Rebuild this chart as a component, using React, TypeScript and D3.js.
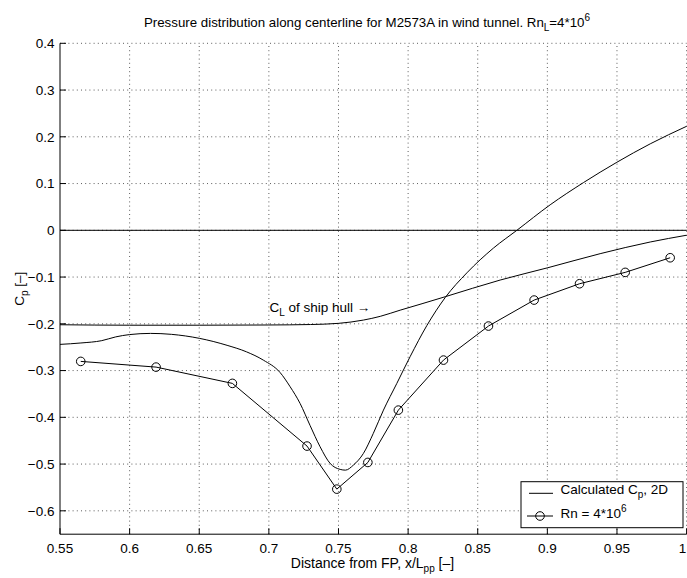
import React from "react";
import * as d3 from "d3";

const xTicks = [0.55, 0.6, 0.65, 0.7, 0.75, 0.8, 0.85, 0.9, 0.95, 1];
const yTicks = [0.4, 0.3, 0.2, 0.1, 0, -0.1, -0.2, -0.3, -0.4, -0.5, -0.6];

// Calculated Cp, 2D
const calcX = [0.55, 0.565, 0.58, 0.59, 0.6, 0.615, 0.63, 0.65, 0.67, 0.684, 0.696, 0.708, 0.7153, 0.7224, 0.7296, 0.7368, 0.744, 0.7512, 0.755, 0.7607, 0.7679, 0.775, 0.7823, 0.7919, 0.8014, 0.8134, 0.8266, 0.8422, 0.8613, 0.8781, 0.902, 0.9259, 0.9499, 0.9739, 1.0];
const calcY = [-0.244, -0.241, -0.236, -0.228, -0.223, -0.2205, -0.2225, -0.231, -0.246, -0.26, -0.2776, -0.304, -0.3347, -0.3702, -0.4175, -0.463, -0.4986, -0.5114, -0.513, -0.5022, -0.4772, -0.4344, -0.3846, -0.3274, -0.2705, -0.204, -0.144, -0.091, -0.038, 0.0, 0.0545, 0.102, 0.1455, 0.185, 0.2225];

// C_L of ship hull
const clX = [0.55, 0.6, 0.65, 0.7, 0.73, 0.75, 0.7679, 0.78, 0.7943, 0.81, 0.8266, 0.8661, 0.9004, 0.9379, 0.9739, 1.0];
const clY = [-0.202, -0.203, -0.203, -0.2025, -0.2015, -0.199, -0.192, -0.184, -0.1708, -0.157, -0.1421, -0.1064, -0.08, -0.05, -0.025, -0.0105];

// Measured Rn = 4*10^6
const measX = [0.5649, 0.619, 0.6738, 0.7274, 0.7488, 0.7711, 0.793, 0.8254, 0.8577, 0.8905, 0.9231, 0.9559, 0.9882];
const measY = [-0.2804, -0.2926, -0.3274, -0.4615, -0.5536, -0.4965, -0.3846, -0.2776, -0.2048, -0.1492, -0.1143, -0.09, -0.0587];

const W = 687;
const H = 578;
const left = 60;
const right = 686.6;
const top = 43.3;
const bottom = 534.2;
const FONT = "'Liberation Sans', Arial, Helvetica, sans-serif";

export default function App() {
  const x = d3.scaleLinear().domain([0.55, 1]).range([left, right]);
  const y = d3.scaleLinear().domain([-0.65, 0.4]).range([bottom, top]);

  const calcLine = d3
    .line<number>()
    .x((_, i) => x(calcX[i]))
    .y((d) => y(d))
    .curve(d3.curveMonotoneX)(calcY) as string;
  const clLine = d3
    .line<number>()
    .x((_, i) => x(clX[i]))
    .y((d) => y(d))
    .curve(d3.curveMonotoneX)(clY) as string;
  const measLine = d3
    .line<number>()
    .x((_, i) => x(measX[i]))
    .y((d) => y(d))(measY) as string;

  const fmt = (v: number) => {
    const s = String(Math.round(v * 100) / 100);
    return s.replace("-", "\u2212");
  };

  const fs = 13.5;
  const sub = 10;

  return (
    <svg
      width={W}
      height={H}
      style={{ position: "absolute", left: 0, top: 0, background: "#fff" }}
      fontFamily={FONT}
    >
      <rect x={0} y={0} width={W} height={H} fill="#fff" />
      {/* grid */}
      <g stroke="#333" strokeWidth={0.8} strokeDasharray="1 3.2">
        {xTicks
          .filter((t) => t > 0.55)
          .map((t) => (
            <line key={"gx" + t} x1={x(t)} x2={x(t)} y1={bottom} y2={top} />
          ))}
        {yTicks.map((t) => (
          <line key={"gy" + t} x1={left} x2={right} y1={y(t)} y2={y(t)} />
        ))}
      </g>
      {/* zero line */}
      <line x1={left} x2={right} y1={y(0)} y2={y(0)} stroke="#000" strokeWidth={1} />
      {/* curves */}
      <path d={clLine} fill="none" stroke="#000" strokeWidth={1} />
      <path d={calcLine} fill="none" stroke="#000" strokeWidth={1} />
      <path d={measLine} fill="none" stroke="#000" strokeWidth={1} />
      {measX.map((mx, i) => (
        <circle key={"c" + i} cx={x(mx)} cy={y(measY[i])} r={4.3} fill="none" stroke="#000" strokeWidth={1} />
      ))}
      {/* axes */}
      <line x1={left} x2={left} y1={top} y2={bottom} stroke="#000" strokeWidth={1} />
      <line x1={left} x2={right} y1={bottom} y2={bottom} stroke="#000" strokeWidth={1} />
      {xTicks.map((t) => (
        <g key={"xt" + t}>
          <line x1={x(t)} x2={x(t)} y1={bottom} y2={bottom - 6} stroke="#000" strokeWidth={1} />
          <text x={Math.min(x(t), 682.5)} y={552.5} textAnchor="middle" fontSize={fs} fill="#000">
            {fmt(t)}
          </text>
        </g>
      ))}
      {yTicks.map((t) => (
        <g key={"yt" + t}>
          <line x1={left} x2={left + 6} y1={y(t)} y2={y(t)} stroke="#000" strokeWidth={1} />
          <text x={54.5} y={y(t) + 4.8} textAnchor="end" fontSize={fs} fill="#000">
            {fmt(t)}
          </text>
        </g>
      ))}
      {/* title */}
      <text x={367} y={27} textAnchor="middle" fontSize={13.3} fill="#000">
        Pressure distribution along centerline for M2573A in wind tunnel. Rn
        <tspan fontSize={sub} dy={4}>L</tspan>
        <tspan dy={-4}>=4*10</tspan>
        <tspan fontSize={sub} dy={-6}>6</tspan>
      </text>
      {/* x label */}
      <text x={372.5} y={567.5} textAnchor="middle" fontSize={14} fill="#000">
        Distance from FP, x/L<tspan fontSize={sub} dy={4}>pp</tspan>
        <tspan dy={-4}> [–]</tspan>
      </text>
      {/* y label */}
      <text transform={`translate(23.5,${(top + bottom) / 2}) rotate(-90)`} textAnchor="middle" fontSize={fs} fill="#000">
        C<tspan fontSize={sub} dy={4}>p</tspan>
        <tspan dy={-4}> [–]</tspan>
      </text>
      {/* annotation */}
      <text x={269.5} y={311.5} fontSize={fs} fill="#000">
        C<tspan fontSize={sub} dy={4}>L</tspan>
        <tspan dy={-4}> of ship hull →</tspan>
      </text>
      {/* legend */}
      <rect x={521} y={481.7} width={162} height={46} fill="#fff" stroke="#000" strokeWidth={1} />
      <line x1={529} x2={553} y1={493.3} y2={493.3} stroke="#000" strokeWidth={1} />
      <text x={560.5} y={494} fontSize={fs} fill="#000">
        Calculated C<tspan fontSize={sub} dy={4}>p</tspan>
        <tspan dy={-4}>, 2D</tspan>
      </text>
      <line x1={527} x2={553} y1={516} y2={516} stroke="#000" strokeWidth={1} />
      <circle cx={540} cy={516} r={4.3} fill="none" stroke="#000" strokeWidth={1} />
      <text x={560.5} y={517.5} fontSize={fs} fill="#000">
        Rn = 4*10<tspan fontSize={sub} dy={-6}>6</tspan>
      </text>
    </svg>
  );
}
